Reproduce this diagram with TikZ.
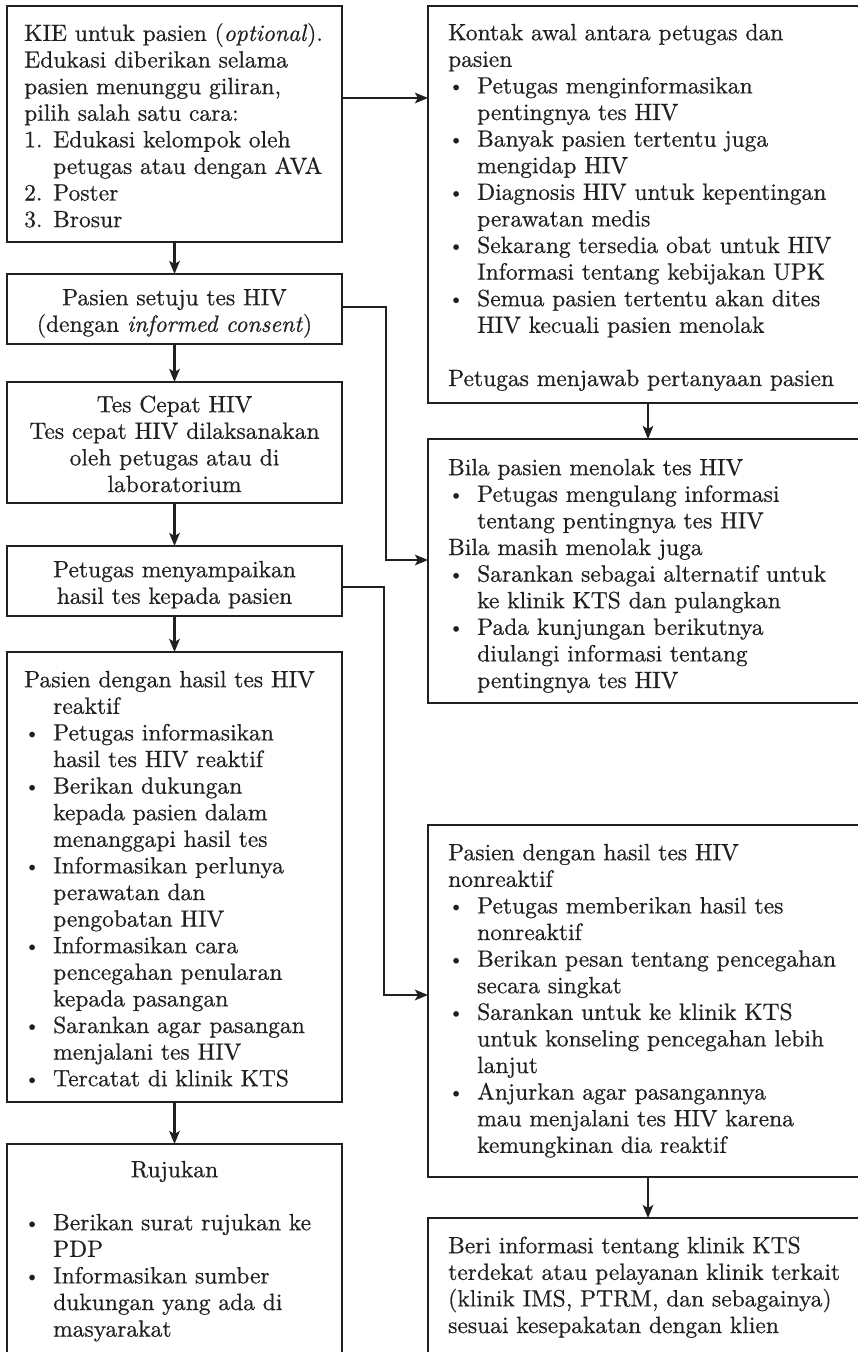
\documentclass[tikz,border=0pt]{standalone}
\usepackage{fontspec}
\setmainfont{lmroman10-regular.otf}[FakeBold=0.6, ItalicFont=lmroman10-italic.otf, ItalicFeatures={FakeBold=0.6}, BoldFont=lmroman10-bold.otf]
\usetikzlibrary{arrows.meta}
\definecolor{ink}{HTML}{231F20}
% list helpers: bullet, numbered label and hanging indent
\newcommand{\bul}{\makebox[29pt][l]{\hspace{0.5pt}\raisebox{1.5pt}{\fontsize{19}{19}\selectfont\textbullet}}}
\newcommand{\numlab}[1]{\makebox[29pt][l]{#1}}
\newcommand{\hind}{\hspace*{29pt}}
\newcommand{\fl}{\rule{0pt}{20pt}}
\newcommand{\mainsize}{\fontsize{23.5}{26.6}\selectfont}
\begin{document}
\begin{tikzpicture}[x=1pt,y=-1pt,
  box/.style={draw=ink, line width=2.9pt, inner sep=0pt, outer sep=0pt, anchor=north west},
  txt/.style={inner sep=0pt, align=left, anchor=north west, font=\mainsize, text=ink},
  ctxt/.style={inner sep=0pt, align=center, anchor=north, font=\mainsize, text=ink},
  arr/.style={draw=ink, line width=2.4pt, -{Stealth[length=13pt,width=10.5pt,inset=3pt]}}]
\path[use as bounding box] (0,0) rectangle (858,1352);
\clip (0,0) rectangle (858,1352);
\fill[white] (0,0) rectangle (858,1352);

% left column boxes
\node[box, minimum width=335pt, minimum height=236pt] (b1) at (7,6) {};
\node[box, minimum width=335pt, minimum height=70pt] (b2) at (7,274) {};
\node[box, minimum width=335pt, minimum height=121pt] (b3) at (7,382) {};
\node[box, minimum width=335pt, minimum height=70pt] (b4) at (7,546) {};
\node[box, minimum width=335pt, minimum height=450pt] (b5) at (7,652) {};
\node[box, minimum width=335pt, minimum height=256pt] (b6) at (7,1144) {};

% right column boxes
\node[box, minimum width=440pt, minimum height=397pt] (r1) at (428,6) {};
\node[box, minimum width=440pt, minimum height=264pt] (r2) at (428,439) {};
\node[box, minimum width=440pt, minimum height=352pt] (r3) at (428,825) {};
\node[box, minimum width=440pt, minimum height=182pt] (r4) at (428,1218) {};

% texts, left column
\node[txt] (t1) at (24,20.7) {\fl KIE untuk pasien (\textit{optional}).\\
Edukasi diberikan selama\\
pasien menunggu giliran,\\
pilih salah satu cara:\\
\numlab{1.}Edukasi kelompok oleh\\
\hind petugas atau dengan AVA\\
\numlab{2.}Poster\\
\numlab{3.}Brosur};
\node[ctxt] (t2) at (174.5,285) {\fl Pasien setuju tes HIV\\(dengan \textit{informed consent})};
\node[ctxt] (t3) at (174.5,392) {\fl Tes Cepat HIV\\Tes cepat HIV dilaksanakan\\oleh petugas atau di\\laboratorium};
\node[ctxt] (t4) at (174.5,557) {\fl Petugas menyampaikan\\hasil tes kepada pasien};
\node[txt] (t5) at (24,667) {\fl Pasien dengan hasil tes HIV\\
\hind reaktif\\
\bul Petugas informasikan\\
\hind hasil tes HIV reaktif\\
\bul Berikan dukungan\\
\hind kepada pasien dalam\\
\hind menanggapi hasil tes\\
\bul Informasikan perlunya\\
\hind perawatan dan\\
\hind pengobatan HIV\\
\bul Informasikan cara\\
\hind pencegahan penularan\\
\hind kepada pasangan\\
\bul Sarankan agar pasangan\\
\hind menjalani tes HIV\\
\bul Tercatat di klinik KTS};
\node[ctxt] (t6) at (174.5,1157) {\fl Rujukan};
\node[txt] (t6b) at (24,1210) {\fl\bul Berikan surat rujukan ke\\
\hind PDP\\
\bul Informasikan sumber\\
\hind dukungan yang ada di\\
\hind masyarakat};

% texts, right column
\node[txt] (u1) at (448,20) {\fl Kontak awal antara petugas dan\\
pasien\\
\bul Petugas menginformasikan\\
\hind pentingnya tes HIV\\
\bul Banyak pasien tertentu juga\\
\hind mengidap HIV\\
\bul Diagnosis HIV untuk kepentingan\\
\hind perawatan medis\\
\bul Sekarang tersedia obat untuk HIV\\
\hind Informasi tentang kebijakan UPK\\
\bul Semua pasien tertentu akan dites\\
\hind HIV kecuali pasien menolak\\[26.6pt]
Petugas menjawab pertanyaan pasien};
\node[txt] (u2) at (448,455) {\fl Bila pasien menolak tes HIV\\
\bul Petugas mengulang informasi\\
\hind tentang pentingnya tes HIV\\
Bila masih menolak juga\\
\bul Sarankan sebagai alternatif untuk\\
\hind ke klinik KTS dan pulangkan\\
\bul Pada kunjungan berikutnya\\
\hind diulangi informasi tentang\\
\hind pentingnya tes HIV};
\node[txt] (u3) at (448,840) {\fl Pasien dengan hasil tes HIV\\
nonreaktif\\
\bul Petugas memberikan hasil tes\\
\hind nonreaktif\\
\bul Berikan pesan tentang pencegahan\\
\hind secara singkat\\
\bul Sarankan untuk ke klinik KTS\\
\hind untuk konseling pencegahan lebih\\
\hind lanjut\\
\bul Anjurkan agar pasangannya\\
\hind mau menjalani tes HIV karena\\
\hind kemungkinan dia reaktif};
\node[txt] (u4) at (448,1233) {\fl Beri informasi tentang klinik KTS\\
terdekat atau pelayanan klinik terkait\\
(klinik IMS, PTRM, dan sebagainya)\\
sesuai kesepakatan dengan klien};

% connector bend points
\coordinate (s1) at (0,98);
\coordinate (s2) at (0,307);
\coordinate (k2) at (386,560);
\coordinate (s4) at (0,587);
\coordinate (k4) at (384,995);

% vertical flow
\draw[arr] (b1.south) -- (b2.north);
\draw[arr] (b2.south) -- (b3.north);
\draw[arr] (b3.south) -- (b4.north);
\draw[arr] (b4.south) -- (b5.north);
\draw[arr] (b5.south) -- (b6.north);
\draw[arr] (r1.south) -- (r2.north);
\draw[arr] (r3.south) -- (r4.north);

% branches to the right column
\draw[arr] (b1.east |- s1) -- (r1.west |- s1);
\draw[arr] (b2.east |- s2) -| (k2) -- (r2.west |- k2);
\draw[arr] (b4.east |- s4) -| (k4) -- (r3.west |- k4);
\end{tikzpicture}
\end{document}
